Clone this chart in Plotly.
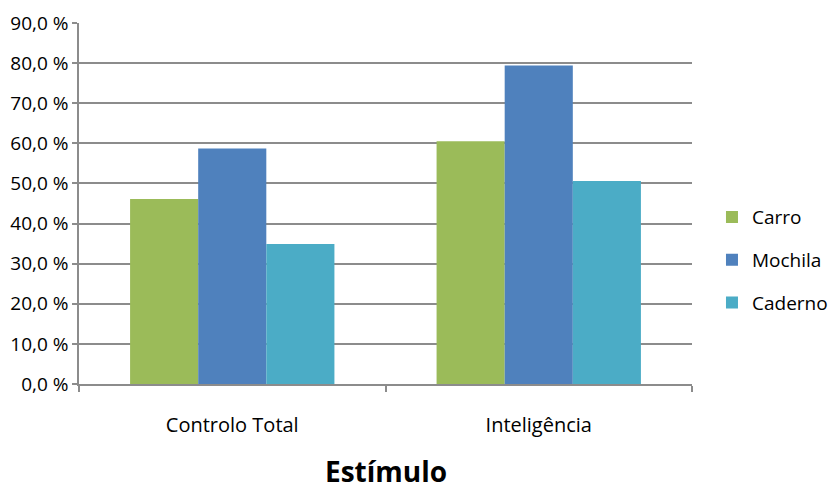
import plotly.graph_objects as go

categories = ["Controlo Total", "Inteligência"]
series_names = ["Carro", "Mochila", "Caderno"]
carro = [46.1, 60.5]
mochila = [58.7, 79.4]
caderno = [34.9, 50.6]
colors = ["#9BBB59", "#4F81BD", "#4BACC6"]
tick_vals = [0, 10, 20, 30, 40, 50, 60, 70, 80, 90]
tick_text = [f"{v},0 %" for v in tick_vals]

font_family = "Open Sans, Lato, sans-serif"

fig = go.Figure()
for i, (name, vals) in enumerate(zip(series_names, [carro, mochila, caderno])):
    fig.add_trace(go.Bar(
        x=categories, y=vals, name=name,
        marker=dict(color=colors[i], line=dict(width=0)),
        legendgroup=name,
    ))

fig.update_layout(
    width=835, height=491,
    margin=dict(l=79, r=143, t=23, b=107, autoexpand=False),
    paper_bgcolor="white", plot_bgcolor="white",
    barmode="group", bargap=1/3, bargroupgap=0,
    font=dict(family=font_family, color="#000000", size=19),
    showlegend=True,
    legend=dict(
        x=1.0326, y=0.343, xanchor="left", yanchor="middle",
        font=dict(size=19, family=font_family),
        traceorder="grouped", tracegroupgap=15,
        itemwidth=30,
    ),
)
fig.update_yaxes(
    range=[0, 90], tickvals=tick_vals, ticktext=tick_text,
    showgrid=True, gridcolor="#8C8C8C", gridwidth=1.5,
    showline=True, linecolor="#8C8C8C", linewidth=1.5,
    ticks="outside", ticklen=5, tickcolor="#8C8C8C", tickwidth=1.5,
    tickfont=dict(size=19), zeroline=False,
)
fig.update_xaxes(
    showline=True, linecolor="#8C8C8C", linewidth=1.5,
    ticks="outside", tickson="boundaries", ticklen=6, tickcolor="#8C8C8C", tickwidth=1.5,
    tickfont=dict(size=20), ticklabelstandoff=22,
)
fig.add_annotation(
    text="<b>Estímulo</b>", xref="paper", yref="paper",
    x=0.5, y=-0.241, xanchor="center", yanchor="middle",
    showarrow=False, font=dict(size=28, family=font_family),
)

fig.write_html("out.html")
